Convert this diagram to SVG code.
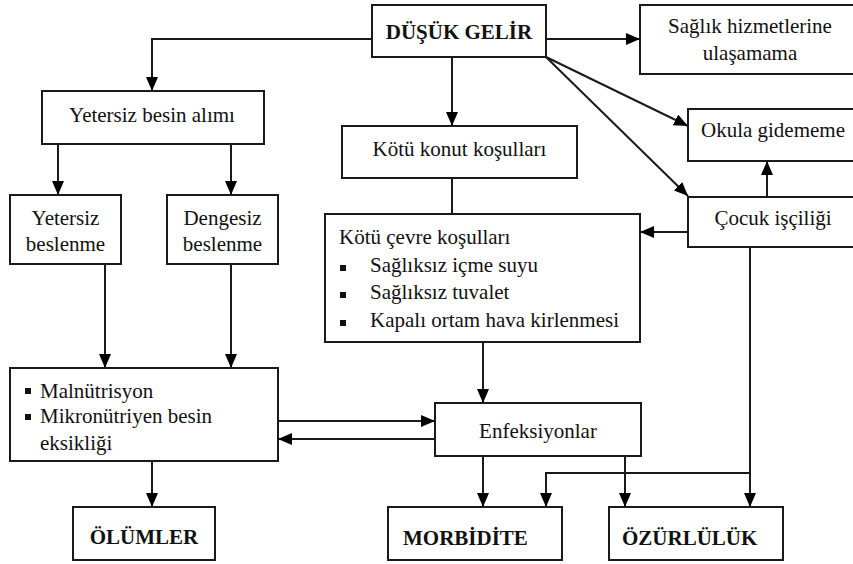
<svg xmlns="http://www.w3.org/2000/svg" width="853" height="564" viewBox="0 0 853 564">
<style>
.box{fill:#fff;stroke:#1a1a1a;stroke-width:2}
.t{font-family:"Liberation Serif","Times New Roman",serif;font-size:21px;fill:#111}
.c{text-anchor:middle}
.b{font-weight:bold}
.ln{fill:none;stroke:#1a1a1a;stroke-width:2}
.bul{fill:#111}
</style>
<defs>
<marker id="ah" viewBox="0 0 14 12" refX="14" refY="6" markerWidth="14" markerHeight="12" orient="auto" markerUnits="userSpaceOnUse">
<path d="M0,0 L14,6 L0,12 z" fill="#000"/>
</marker>
</defs>
<rect width="853" height="564" fill="#fff"/>
<g id="connectors">
<path class="ln" d="M372,39 H152 V91" marker-end="url(#ah)"/>
<path class="ln" d="M452,57 V126" marker-end="url(#ah)"/>
<path class="ln" d="M546,39 H640" marker-end="url(#ah)"/>
<path class="ln" d="M546,57 L688,126" marker-end="url(#ah)"/>
<path class="ln" d="M546,57 L688,196" marker-end="url(#ah)"/>
<path class="ln" d="M767,197 V161" marker-end="url(#ah)"/>
<path class="ln" d="M688,232 H640" marker-end="url(#ah)"/>
<path class="ln" d="M452,178 V214"/>
<path class="ln" d="M58,144 V195" marker-end="url(#ah)"/>
<path class="ln" d="M231,144 V195" marker-end="url(#ah)"/>
<path class="ln" d="M105,264 V368" marker-end="url(#ah)"/>
<path class="ln" d="M231,264 V368" marker-end="url(#ah)"/>
<path class="ln" d="M483,342 V403" marker-end="url(#ah)"/>
<path class="ln" d="M278,421 H435" marker-end="url(#ah)"/>
<path class="ln" d="M435,439 H278" marker-end="url(#ah)"/>
<path class="ln" d="M152,461 V507" marker-end="url(#ah)"/>
<path class="ln" d="M483,456 V507" marker-end="url(#ah)"/>
<path class="ln" d="M625,456 V507" marker-end="url(#ah)"/>
<path class="ln" d="M750,247 V507" marker-end="url(#ah)"/>
<path class="ln" d="M750,473 H546 V507" marker-end="url(#ah)"/>
</g>
<g id="dusuk-gelir">
<rect class="box" x="372" y="5" width="174" height="52"/>
<text class="t b c" x="459" y="39">DÜŞÜK GELİR</text>
</g>
<g id="saglik">
<rect class="box" x="640" y="5" width="220" height="69"/>
<text class="t c" x="750" y="33">Sağlık hizmetlerine</text>
<text class="t c" x="750" y="60">ulaşamama</text>
</g>
<g id="okula">
<rect class="box" x="688" y="109" width="172" height="52"/>
<text class="t c" x="773" y="137">Okula gidememe</text>
</g>
<g id="cocuk">
<rect class="box" x="688" y="197" width="172" height="50"/>
<text class="t c" x="773" y="225">Çocuk işçiliği</text>
</g>
<g id="yetersiz-besin">
<rect class="box" x="42" y="91" width="222" height="53"/>
<text class="t c" x="152" y="122">Yetersiz besin alımı</text>
</g>
<g id="kotu-konut">
<rect class="box" x="342" y="126" width="235" height="52"/>
<text class="t c" x="459.5" y="156">Kötü konut koşulları</text>
</g>
<g id="yetersiz-beslenme">
<rect class="box" x="10" y="195" width="111" height="69"/>
<text class="t c" x="65.5" y="225">Yetersiz</text>
<text class="t c" x="65.5" y="251">beslenme</text>
</g>
<g id="dengesiz-beslenme">
<rect class="box" x="167" y="195" width="111" height="69"/>
<text class="t c" x="222.5" y="225">Dengesiz</text>
<text class="t c" x="222.5" y="251">beslenme</text>
</g>
<g id="kotu-cevre">
<rect class="box" x="325" y="214" width="315" height="128"/>
<text class="t" x="339" y="244">Kötü çevre koşulları</text>
<rect class="bul" x="340" y="265" width="6" height="6"/>
<text class="t" x="370" y="272">Sağlıksız içme suyu</text>
<rect class="bul" x="340" y="292" width="6" height="6"/>
<text class="t" x="370" y="299">Sağlıksız tuvalet</text>
<rect class="bul" x="340" y="320" width="6" height="6"/>
<text class="t" x="370" y="327">Kapalı ortam hava kirlenmesi</text>
</g>
<g id="malnutrisyon">
<rect class="box" x="10" y="368" width="268" height="93"/>
<rect class="bul" x="25" y="388" width="6" height="6"/>
<text class="t" x="40" y="398">Malnütrisyon</text>
<rect class="bul" x="25" y="414" width="6" height="6"/>
<text class="t" x="40" y="423">Mikronütriyen besin</text>
<text class="t" x="40" y="450">eksikliği</text>
</g>
<g id="enfeksiyonlar">
<rect class="box" x="435" y="403" width="206" height="53"/>
<text class="t c" x="538" y="438">Enfeksiyonlar</text>
</g>
<g id="olumler">
<rect class="box" x="73" y="507" width="142" height="53"/>
<text class="t b c" x="144" y="544">ÖLÜMLER</text>
</g>
<g id="morbidite">
<rect class="box" x="388" y="507" width="174" height="53"/>
<text class="t b" x="403" y="545">MORBİDİTE</text>
</g>
<g id="ozurluluk">
<rect class="box" x="609" y="507" width="174" height="53"/>
<text class="t b" x="622" y="545">ÖZÜRLÜLÜK</text>
</g>
</svg>
